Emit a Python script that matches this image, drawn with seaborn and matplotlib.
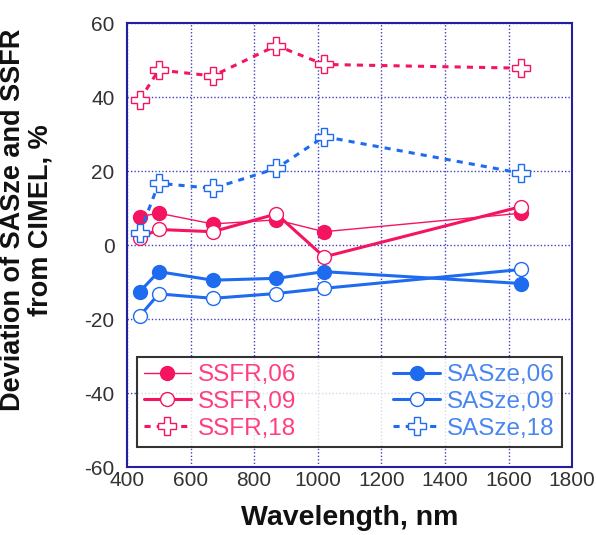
import matplotlib
matplotlib.use("Agg")
import matplotlib.pyplot as plt
import pandas as pd
import seaborn as sns

wavelength = [440, 500, 670, 870, 1020, 1640]

ssfr_06 = [7.7, 8.6, 5.7, 6.8, 3.6, 8.6]
ssfr_09 = [2.0, 4.2, 3.6, 8.4, -3.2, 10.4]
ssfr_18 = [39.2, 47.3, 45.7, 53.9, 48.8, 47.8]
sasze_06 = [-12.6, -7.2, -9.5, -9.0, -7.2, -10.4]
sasze_09 = [-19.2, -13.2, -14.4, -13.1, -11.7, -6.6]
sasze_18 = [3.2, 16.7, 15.3, 20.7, 29.3, 19.4]

pink = '#f5145f'
blue = '#1f6bf0'
pink_txt = '#ff3f7f'
blue_txt = '#4a86f0'

series = [
    ('SSFR,06', ssfr_06, pink, 'o', True, '-', 1.0),
    ('SSFR,09', ssfr_09, pink, 'o', False, '-', 2.2),
    ('SSFR,18', ssfr_18, pink, 'P', False, (0, (2, 2)), 2.2),
    ('SASze,06', sasze_06, blue, 'o', True, '-', 2.2),
    ('SASze,09', sasze_09, blue, 'o', False, '-', 2.2),
    ('SASze,18', sasze_18, blue, 'P', False, (0, (2, 2)), 2.2),
]

sns.set_style('white')
plt.rcParams['font.family'] = ['Liberation Sans', 'DejaVu Sans']
plt.rcParams['axes.unicode_minus'] = False

fig, ax = plt.subplots(figsize=(5.96, 5.35), dpi=100)
fig.subplots_adjust(left=0.213, right=0.960, top=0.957, bottom=0.127)

for name, vals, col, mk, filled, ls, lw in series:
    df = pd.DataFrame({'wl': wavelength, 'dev': vals})
    msize = 13 if mk == 'P' else 10
    sns.lineplot(data=df, x='wl', y='dev', ax=ax, color=col, linewidth=lw,
                 linestyle=ls, marker=mk, markersize=msize,
                 markerfacecolor=col if filled else 'white',
                 markeredgecolor=col, markeredgewidth=1.0, label=name,
                 sort=False)

ax.set_xlim(400, 1800)
ax.set_ylim(-60, 60)
ax.set_xticks(range(400, 1801, 200))
ax.set_yticks(range(-60, 61, 20))
ax.grid(True, color='#4040c0', linestyle=(0, (1, 1.5)), linewidth=1.0)
ax.set_axisbelow(True)
for sp in ax.spines.values():
    sp.set_color('#2020a0')
    sp.set_linewidth(1.5)
ax.tick_params(axis='both', labelsize=15, colors='#2020a0', labelcolor='#333333',
               direction='in', length=6, width=1.5)
ax.tick_params(axis='x', pad=3)
ax.tick_params(axis='y', pad=9)

ax.set_xlabel('Wavelength, nm', fontsize=20.5, fontweight='bold', color='#111111',
              labelpad=11)
ax.set_ylabel('Deviation of SASze and SSFR\nfrom CIMEL, %', fontsize=19.5,
              fontweight='bold', color='#111111', linespacing=1.05)
ax.yaxis.set_label_coords(-0.165, 0.556)

leg = ax.legend(ncol=2, loc='lower center', bbox_to_anchor=(0.5, 0.045),
                fontsize=17.5, frameon=True, fancybox=False, edgecolor='black',
                handlelength=1.9, columnspacing=4.0, labelspacing=0.2,
                borderpad=0.3, handletextpad=0.3, borderaxespad=0)
leg.get_frame().set_linewidth(1.5)
for txt, s in zip(leg.get_texts(), series):
    txt.set_color(pink_txt if s[2] == pink else blue_txt)

fig.savefig('out.png', dpi=100)
